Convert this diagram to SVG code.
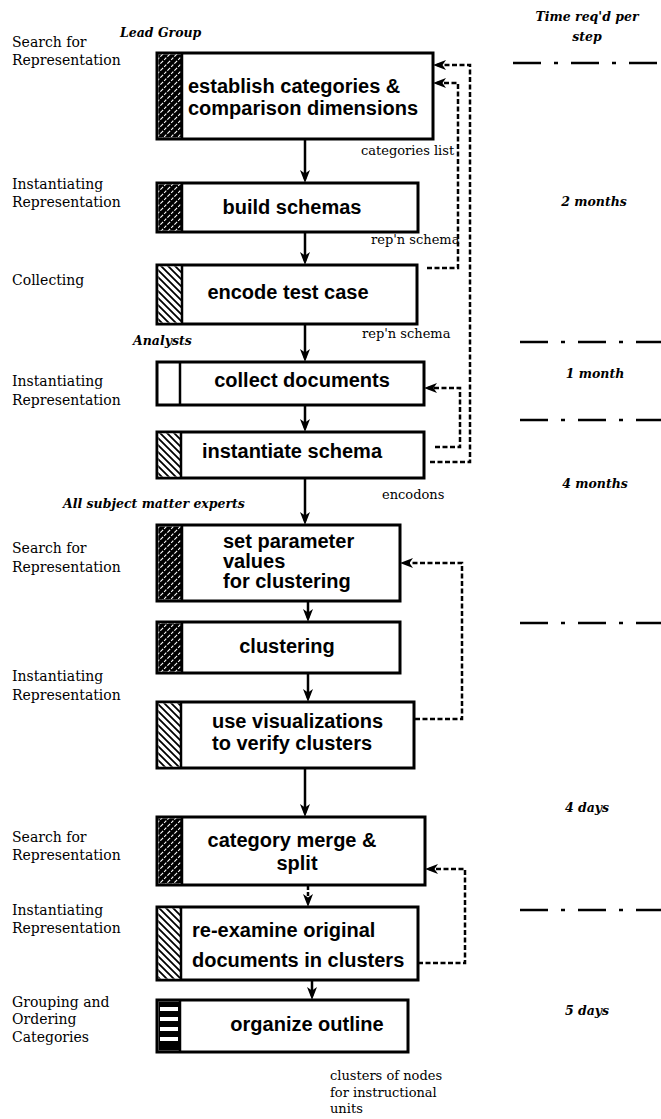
<svg xmlns="http://www.w3.org/2000/svg" width="661" height="1119" viewBox="0 0 661 1119">
<style>
.box{fill:#fff;stroke:#000;stroke-width:3}
.sep{stroke:#000;stroke-width:2.5}
.bt{font-family:"Liberation Sans",Arial,sans-serif;font-weight:bold;font-size:20px;fill:#000}
.c{text-anchor:middle}
.lab{font-family:"DejaVu Serif","Liberation Serif",serif;font-size:14px;fill:#000}
.sm{font-family:"DejaVu Serif","Liberation Serif",serif;font-size:13px;fill:#000}
.it{font-family:"DejaVu Serif","Liberation Serif",serif;font-style:italic;font-weight:bold;font-size:12.5px;fill:#000}
.arr{stroke:#000;stroke-width:2.5;fill:none;marker-end:url(#ah)}
.fb{stroke:#000;stroke-width:2.5;fill:none;stroke-dasharray:5 2.5;marker-end:url(#ah)}
.dd{stroke:#000;stroke-width:2.5;fill:none;stroke-dasharray:28 13 4 13}
</style>
<defs>
<marker id="ah" viewBox="0 0 13 10" refX="9" refY="5" markerWidth="13" markerHeight="10" markerUnits="userSpaceOnUse" orient="auto">
<path d="M0,0 L13,5 L0,10 L3.5,5 z" fill="#000"/>
</marker>
<pattern id="dark" patternUnits="userSpaceOnUse" width="7" height="7">
<rect width="7" height="7" fill="#000"/>
<path d="M0,7 L7,0 M-1,1 L1,-1 M6,8 L8,6" stroke="#fff" stroke-width="1.1" stroke-dasharray="3 1.5"/>
</pattern>
<pattern id="light" patternUnits="userSpaceOnUse" width="7" height="7">
<rect width="7" height="7" fill="#fff"/>
<path d="M0,0 L7,7 M-1,6 L1,8 M6,-1 L8,1" stroke="#000" stroke-width="1.8"/>
</pattern>
</defs>

<g id="labels">
<text class="lab" x="12" y="47">Search for</text>
<text class="lab" x="12" y="65">Representation</text>
<text class="lab" x="12" y="189">Instantiating</text>
<text class="lab" x="12" y="207">Representation</text>
<text class="lab" x="12" y="285">Collecting</text>
<text class="lab" x="12" y="386">Instantiating</text>
<text class="lab" x="12" y="405">Representation</text>
<text class="lab" x="12" y="553">Search for</text>
<text class="lab" x="12" y="572">Representation</text>
<text class="lab" x="12" y="681">Instantiating</text>
<text class="lab" x="12" y="700">Representation</text>
<text class="lab" x="12" y="842">Search for</text>
<text class="lab" x="12" y="860">Representation</text>
<text class="lab" x="12" y="915">Instantiating</text>
<text class="lab" x="12" y="933">Representation</text>
<text class="lab" x="12" y="1007">Grouping and</text>
<text class="lab" x="12" y="1024">Ordering</text>
<text class="lab" x="12" y="1042">Categories</text>
<text class="it" x="120" y="37">Lead Group</text>
<text class="it" x="133" y="345">Analysts</text>
<text class="it" x="63" y="508">All subject matter experts</text>
<text class="sm" x="361" y="155">categories list</text>
<text class="sm" x="371" y="244">rep'n schema</text>
<text class="sm" x="362" y="338">rep'n schema</text>
<text class="sm" x="382" y="499">encodons</text>
<text class="sm" x="330" y="1080">clusters of nodes</text>
<text class="sm" x="330" y="1097">for instructional</text>
<text class="sm" x="330" y="1113">units</text>
</g>

<g id="time">
<text class="it c" x="587" y="21">Time req'd per</text>
<text class="it c" x="587" y="41">step</text>
<path class="dd" d="M513,63 H661"/>
<path class="dd" d="M520,342 H661"/>
<path class="dd" d="M520,420 H661"/>
<path class="dd" d="M520,623 H661"/>
<path class="dd" d="M520,910 H661"/>
<text class="it c" x="594" y="206">2 months</text>
<text class="it c" x="595" y="378">1 month</text>
<text class="it c" x="595" y="488">4 months</text>
<text class="it c" x="587" y="812">4 days</text>
<text class="it c" x="587" y="1015">5 days</text>
</g>

<g id="n1">
<rect class="box" x="157" y="53" width="276" height="86"/>
<rect x="158.5" y="54.5" width="23.5" height="83" fill="url(#dark)"/>
<line class="sep" x1="182" y1="53" x2="182" y2="139"/>
<text class="bt" x="188" y="93">establish categories &amp;</text>
<text class="bt" x="188" y="115">comparison dimensions</text>
</g>
<g id="n2">
<rect class="box" x="157" y="183" width="261" height="49"/>
<rect x="158.5" y="184.5" width="23.5" height="46" fill="url(#dark)"/>
<line class="sep" x1="182" y1="183" x2="182" y2="232"/>
<text class="bt c" x="292" y="214">build schemas</text>
</g>
<g id="n3">
<rect class="box" x="157" y="265" width="260" height="59"/>
<rect x="158.5" y="266.5" width="23.5" height="56" fill="url(#light)"/>
<line class="sep" x1="182" y1="265" x2="182" y2="324"/>
<text class="bt c" x="288" y="299">encode test case</text>
</g>
<g id="n4">
<rect class="box" x="157" y="362" width="267" height="43"/>
<line class="sep" x1="180" y1="362" x2="180" y2="405"/>
<text class="bt c" x="302" y="387">collect documents</text>
</g>
<g id="n5">
<rect class="box" x="157" y="432" width="267" height="46"/>
<rect x="158.5" y="433.5" width="22.5" height="43" fill="url(#light)"/>
<line class="sep" x1="181" y1="432" x2="181" y2="478"/>
<text class="bt c" x="292" y="458">instantiate schema</text>
</g>
<g id="n6">
<rect class="box" x="157" y="525" width="243" height="76"/>
<rect x="158.5" y="526.5" width="23.5" height="73" fill="url(#dark)"/>
<line class="sep" x1="182" y1="525" x2="182" y2="601"/>
<text class="bt" x="223" y="548">set parameter</text>
<text class="bt" x="223" y="568">values</text>
<text class="bt" x="223" y="588">for clustering</text>
</g>
<g id="n7">
<rect class="box" x="157" y="622" width="243" height="51"/>
<rect x="158.5" y="623.5" width="23.5" height="48" fill="url(#dark)"/>
<line class="sep" x1="182" y1="622" x2="182" y2="673"/>
<text class="bt c" x="287" y="653">clustering</text>
</g>
<g id="n8">
<rect class="box" x="157" y="702" width="257" height="66"/>
<rect x="158.5" y="703.5" width="22.5" height="63" fill="url(#light)"/>
<line class="sep" x1="181" y1="702" x2="181" y2="768"/>
<text class="bt" x="212" y="728">use visualizations</text>
<text class="bt" x="212" y="750">to verify clusters</text>
</g>
<g id="n9">
<rect class="box" x="157" y="817" width="268" height="68"/>
<rect x="158.5" y="818.5" width="23.5" height="65" fill="url(#dark)"/>
<line class="sep" x1="182" y1="817" x2="182" y2="885"/>
<text class="bt c" x="292" y="847">category merge &amp;</text>
<text class="bt c" x="297" y="870">split</text>
</g>
<g id="n10">
<rect class="box" x="157" y="907" width="261" height="73"/>
<rect x="158.5" y="908.5" width="22.5" height="70" fill="url(#light)"/>
<line class="sep" x1="181" y1="907" x2="181" y2="980"/>
<text class="bt" x="192" y="937">re-examine original</text>
<text class="bt" x="192" y="967">documents in clusters</text>
</g>
<g id="n11">
<rect class="box" x="157" y="1000" width="251" height="52"/>
<rect x="158.5" y="1001.5" width="22" height="49" fill="#000"/>
<rect x="160" y="1007" width="18" height="4" fill="#fff"/>
<rect x="160" y="1017" width="18" height="4" fill="#fff"/>
<rect x="160" y="1027" width="18" height="4" fill="#fff"/>
<rect x="160" y="1037" width="18" height="4" fill="#fff"/>
<line class="sep" x1="180" y1="1000" x2="180" y2="1052"/>
<text class="bt c" x="307" y="1031">organize outline</text>
</g>

<g id="connectors">
<path class="arr" d="M305,140 V179"/>
<path class="arr" d="M305,233 V261"/>
<path class="arr" d="M305,325 V358"/>
<path class="arr" d="M305,406 V428"/>
<path class="arr" d="M305,479 V521"/>
<path class="arr" d="M308,602 V618"/>
<path class="arr" d="M308,674 V698"/>
<path class="arr" d="M305,769 V813"/>
<path class="arr" d="M308,886 V903" stroke-dasharray="4 2"/>
<path class="arr" d="M312,981 V996"/>
<path class="fb" d="M430,462 H470 V65 H437"/>
<path class="fb" d="M427,268 H458 V83 H437"/>
<path class="fb" d="M435,447 H460 V388 H428"/>
<path class="fb" d="M415,719 H462 V563 H404"/>
<path class="fb" d="M418,963 H465 V869 H429"/>
</g>
</svg>
